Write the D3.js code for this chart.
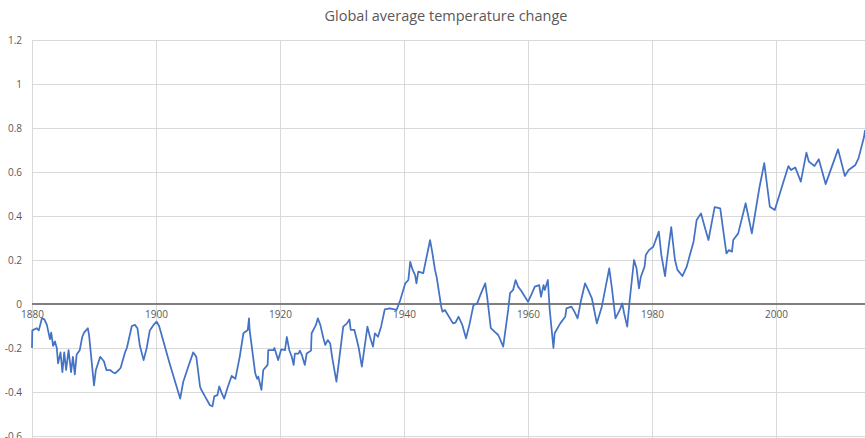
<!DOCTYPE html>
<html>
<head>
<meta charset="utf-8">
<script src="https://cdn.jsdelivr.net/npm/d3@7"></script>
<style>
  html, body { margin: 0; padding: 0; background: #fff; }
  svg { display: block; }
  text { font-family: "Open Sans", "Liberation Sans", sans-serif; fill: #595959; }
</style>
</head>
<body>
<svg id="chart" width="865" height="438"></svg>
<script>
// Global temperature anomaly (°C), sampled as year / anomaly pairs
const years = [
  1880.0, 1880.05, 1880.75, 1881.1, 1881.6, 1882.0, 1882.4, 1882.9, 1883.1, 1883.4,
  1883.7, 1884.0, 1884.2, 1884.6, 1884.9, 1885.2, 1885.5, 1885.9, 1886.3, 1886.6,
  1886.9, 1887.2, 1887.7, 1888.1, 1888.4, 1889.0, 1889.2, 1890.0, 1890.3, 1891.0,
  1891.6, 1892.0, 1892.6, 1893.0, 1893.4, 1894.0, 1894.3, 1895.0, 1895.3, 1896.1,
  1896.6, 1897.0, 1897.4, 1898.0, 1898.5, 1899.0, 1899.6, 1900.1, 1900.5, 1901.7,
  1902.2, 1903.9, 1904.4, 1905.2, 1906.0, 1906.5, 1907.1, 1907.3, 1907.9, 1908.7,
  1909.1, 1909.4, 1909.9, 1910.2, 1910.6, 1911.0, 1911.6, 1912.2, 1912.8, 1913.5,
  1914.1, 1914.8, 1915.0, 1915.1, 1916.0, 1916.3, 1916.5, 1917.0, 1917.3, 1918.0,
  1918.1, 1918.9, 1919.1, 1919.7, 1920.2, 1920.8, 1921.1, 1921.5, 1921.9, 1922.2,
  1922.4, 1923.0, 1923.2, 1923.5, 1924.0, 1924.3, 1925.0, 1925.1, 1925.8, 1926.1,
  1926.5, 1927.0, 1927.3, 1927.7, 1928.1, 1928.4, 1929.1, 1929.4, 1930.2, 1930.8,
  1931.2, 1931.4, 1932.0, 1932.4, 1932.7, 1933.2, 1934.1, 1934.5, 1935.0, 1935.3,
  1935.8, 1936.3, 1936.9, 1937.7, 1938.8, 1939.4, 1940.2, 1940.7, 1941.0, 1941.4,
  1941.8, 1942.0, 1942.3, 1943.1, 1944.2, 1944.5, 1945.0, 1945.3, 1946.0, 1946.2,
  1946.6, 1947.9, 1948.3, 1948.8, 1949.4, 1950.0, 1950.6, 1951.2, 1951.8, 1952.3,
  1953.1, 1953.4, 1954.0, 1954.6, 1955.2, 1956.0, 1956.8, 1957.1, 1957.6, 1958.0,
  1958.4, 1958.9, 1959.5, 1960.0, 1960.5, 1961.1, 1961.8, 1962.1, 1962.5, 1962.7,
  1963.2, 1963.5, 1964.1, 1964.3, 1965.2, 1966.0, 1966.2, 1967.0, 1967.4, 1968.0,
  1968.5, 1969.2, 1969.7, 1970.3, 1971.1, 1971.9, 1973.1, 1973.5, 1974.1, 1974.8,
  1975.2, 1975.5, 1976.0, 1976.4, 1977.1, 1977.5, 1977.9, 1978.2, 1978.8, 1979.0,
  1979.5, 1980.2, 1981.1, 1981.5, 1982.1, 1982.4, 1983.1, 1983.7, 1984.1, 1984.9,
  1985.6, 1986.1, 1986.7, 1987.2, 1987.9, 1988.5, 1989.1, 1990.1, 1991.0, 1992.0,
  1992.4, 1992.9, 1993.1, 1993.9, 1995.1, 1996.1, 1997.3, 1998.1, 1999.0, 1999.8,
  2001.2, 2002.0, 2002.4, 2003.1, 2004.0, 2004.9, 2005.3, 2006.2, 2006.9, 2008.0,
  2010.0, 2011.1, 2011.7, 2012.8, 2013.3, 2014.2, 2014.35
];
const anomalies = [
  -0.20, -0.12, -0.11, -0.12, -0.065, -0.07, -0.095, -0.16, -0.13, -0.19,
  -0.17, -0.20, -0.27, -0.22, -0.31, -0.22, -0.30, -0.21, -0.31, -0.24,
  -0.32, -0.23, -0.21, -0.15, -0.13, -0.11, -0.14, -0.37, -0.30, -0.24,
  -0.26, -0.30, -0.30, -0.31, -0.315, -0.30, -0.29, -0.22, -0.20, -0.10,
  -0.095, -0.11, -0.19, -0.255, -0.20, -0.12, -0.095, -0.08, -0.10, -0.22,
  -0.27, -0.43, -0.353, -0.285, -0.22, -0.24, -0.375, -0.39, -0.42, -0.46,
  -0.465, -0.42, -0.414, -0.375, -0.405, -0.43, -0.375, -0.327, -0.34, -0.24,
  -0.133, -0.118, -0.065, -0.118, -0.315, -0.34, -0.33, -0.39, -0.30, -0.277,
  -0.21, -0.21, -0.20, -0.255, -0.206, -0.21, -0.15, -0.21, -0.24, -0.277,
  -0.225, -0.225, -0.212, -0.23, -0.277, -0.225, -0.212, -0.133, -0.095, -0.065,
  -0.095, -0.156, -0.186, -0.164, -0.18, -0.24, -0.353, -0.285, -0.103, -0.088,
  -0.07, -0.118, -0.118, -0.164, -0.20, -0.285, -0.103, -0.149, -0.194, -0.133,
  -0.149, -0.103, -0.024, -0.02, -0.027, 0.018, 0.094, 0.109, 0.192, 0.155,
  0.13, 0.094, 0.147, 0.14, 0.29, 0.245, 0.155, 0.117, -0.012, -0.035,
  -0.027, -0.088, -0.085, -0.058, -0.095, -0.156, -0.088, -0.005, 0.003, 0.04,
  0.094, 0.035, -0.11, -0.126, -0.141, -0.194, -0.027, 0.049, 0.064, 0.109,
  0.079, 0.06, 0.033, 0.010, 0.04, 0.079, 0.086, 0.033, 0.086, 0.064,
  0.109, -0.027, -0.20, -0.133, -0.088, -0.058, -0.02, -0.012, -0.03, -0.065,
  0.010, 0.094, 0.064, 0.026, -0.088, -0.012, 0.162, 0.079, -0.065, -0.027,
  0.003, -0.042, -0.103, 0.018, 0.20, 0.162, 0.071, 0.124, 0.17, 0.223,
  0.245, 0.26, 0.329, 0.223, 0.127, 0.20, 0.349, 0.20, 0.155, 0.127,
  0.17, 0.223, 0.283, 0.382, 0.412, 0.35, 0.291, 0.44, 0.435, 0.23,
  0.245, 0.238, 0.291, 0.321, 0.458, 0.321, 0.526, 0.64, 0.442, 0.427,
  0.556, 0.627, 0.609, 0.621, 0.556, 0.688, 0.647, 0.627, 0.658, 0.545,
  0.703, 0.582, 0.609, 0.632, 0.662, 0.76, 0.79
];
const yTicks = [-0.6, -0.4, -0.2, 0, 0.2, 0.4, 0.6, 0.8, 1, 1.2];
const xTicks = [1880, 1900, 1920, 1940, 1960, 1980, 2000];
const title = "Global average temperature change";

const svg = d3.select("#chart");
const W = 865, H = 438;
const plotLeft = 32, plotRight = 865, plotTop = 40, plotBottom = 436;

const x = d3.scaleLinear().domain([1880, 2014.35]).range([plotLeft, plotRight]);
const y = d3.scaleLinear().domain([-0.6, 1.2]).range([plotBottom, plotTop]);

// title
svg.append("text")
  .attr("x", 446).attr("y", 21)
  .attr("text-anchor", "middle")
  .style("font-size", "14.5px")
  .text(title);

// horizontal gridlines
svg.append("g")
  .selectAll("line")
  .data(yTicks.filter(d => d !== 0))
  .join("line")
  .attr("x1", plotLeft).attr("x2", plotRight)
  .attr("y1", d => Math.round(y(d)) + 0.5).attr("y2", d => Math.round(y(d)) + 0.5)
  .attr("stroke", "#d9d9d9").attr("stroke-width", 1);

// vertical gridlines
svg.append("g")
  .selectAll("line")
  .data(xTicks)
  .join("line")
  .attr("x1", d => Math.round(x(d)) + 0.5).attr("x2", d => Math.round(x(d)) + 0.5)
  .attr("y1", plotTop).attr("y2", H)
  .attr("stroke", "#d9d9d9").attr("stroke-width", 1);

// y axis labels
const yAxis = d3.axisLeft(y).tickValues(yTicks).tickSize(0).tickPadding(0)
  .tickFormat(d => String(+d.toFixed(1)));
const gy = svg.append("g").attr("transform", "translate(22,0)").call(yAxis);
gy.select(".domain").remove();
gy.selectAll("text").style("font-size", "10px").attr("fill", "#595959")
  .style("font-family", "'Open Sans', sans-serif");

// zero axis line
svg.append("line")
  .attr("x1", plotLeft).attr("x2", plotRight)
  .attr("y1", y(0)).attr("y2", y(0))
  .attr("stroke", "#7f7f7f").attr("stroke-width", 2);

// x axis labels, placed just under the zero line
const xAxis = d3.axisBottom(x).tickValues(xTicks).tickSize(0).tickPadding(0)
  .tickFormat(d3.format("d"));
const gx = svg.append("g").attr("transform", `translate(0,${y(0) + 7})`).call(xAxis);
gx.select(".domain").remove();
gx.selectAll("text").style("font-size", "10px").attr("fill", "#595959")
  .style("font-family", "'Open Sans', sans-serif");

// temperature series
const points = years.map((yr, i) => [yr, anomalies[i]]);
const line = d3.line().x(d => x(d[0])).y(d => y(d[1]));
svg.append("path")
  .datum(points)
  .attr("d", line)
  .attr("fill", "none")
  .attr("stroke", "#4472c4")
  .attr("stroke-width", 1.75)
  .attr("stroke-linejoin", "round");
</script>
</body>
</html>
